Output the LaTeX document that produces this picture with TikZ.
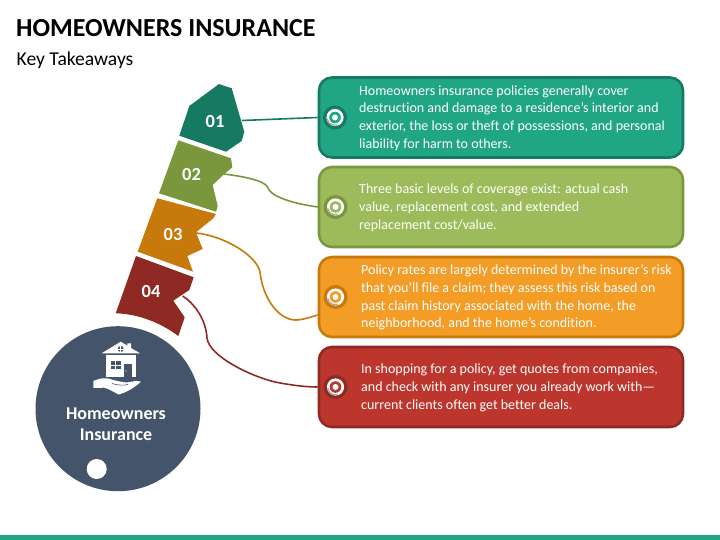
\documentclass[tikz,border=0pt]{standalone}
\usepackage{fontspec}
\setmainfont{Carlito}[Ligatures=NoCommon]
\definecolor{gA}{HTML}{20A585}\definecolor{gAd}{HTML}{167A63}
\definecolor{gB}{HTML}{9DBB5B}\definecolor{gBd}{HTML}{7A973E}
\definecolor{gC}{HTML}{F39C26}\definecolor{gCd}{HTML}{C8790B}
\definecolor{gD}{HTML}{BC362E}\definecolor{gDd}{HTML}{8E2A23}
\definecolor{slate}{HTML}{44546A}
\tikzset{
 cardbox/.style={draw=#1,line width=2.6pt,rounded corners=13pt,minimum width=364pt,minimum height=80pt,inner sep=0pt},
 cardtext/.style={anchor=west,align=left,text=white,font=\fontsize{14}{17.8}\selectfont,inner sep=0pt},
 tabnum/.style={text=white,font=\bfseries\fontsize{18.5}{20}\selectfont,inner sep=0pt},
 link/.style={draw=#1,line width=1.6pt},
}
\newcommand{\bulletmark}[4]{%
 \node[circle,fill=#3,minimum size=24pt,inner sep=0pt] (#1) at (#2) {};
 \fill[white] (#1) circle (8.6pt);
 \draw[gray!70,line width=1.3pt] (#1)++(190:7.9pt) arc (190:285:7.9pt);
 \fill[#4] (#1) circle (5.8pt);
 \fill[white] (#1) circle (3pt);
}
\begin{document}
\begin{tikzpicture}[x=1pt,y=-1pt]
\useasboundingbox (0,0) rectangle (720,540);
\fill[white] (0,0) rectangle (720,540);
\fill[gA] (0,534.5) rectangle (720,540);
\node[anchor=west,inner sep=0pt,font=\bfseries\fontsize{26}{28}\selectfont,text=black] (title) at (16,28) {HOMEOWNERS INSURANCE};
\node[anchor=west,inner sep=0pt,font=\fontsize{19.6}{22}\selectfont,text=black] (sub) at (16.5,60) {Key Takeaways};
% tabs
\fill[gAd] (219,84)--(231.7,88.3)--(244.3,131.7)--(241.7,141)--(226,151.7)--(179.3,135.7)--(189.3,106)--cycle;
\fill[gBd] (178.3,140.3)--(231,158.3)--(232.3,167.3)--(224,174.3)--(212.7,185)--(217.7,206)--(216,211.7)--(159,193.3)--cycle;
\fill[gCd] (157.3,198.3)--(216,214)--(213.3,218.3)--(196,232.3)--(202.7,249)--(187.3,256)--(193,271.7)--(137.7,251.7)--cycle;
\fill[gDd] (136,256)--(193.7,277.3)--(189.3,290)--(173.3,300.7)--(184.7,317.3)--(178.3,336) .. controls (161,323) and (139,314) .. (115.7,313.3)--cycle;
\node[tabnum] (n1) at (215,121) {01};
\node[tabnum] (n2) at (191.5,174) {02};
\node[tabnum] (n3) at (173,234) {03};
\node[tabnum] (n4) at (151,291) {04};
% circle
\node[circle,fill=slate,minimum size=165pt,inner sep=0pt] (hub) at (118,408.7) {};
\fill[white] (96.7,469) circle (10pt);
% house icon
\fill[white] (120.7,341.7)--(127.3,345.6)--(127.3,343.3)--(131,343.3)--(131,348)--(140,353.3)--(101.7,353.3)--cycle;
\fill[white] (105.7,355) rectangle (135.7,376.5);
\fill[slate] (120.7,349) circle (3pt);
\draw[white,line width=.6pt] (117.7,349)--(123.7,349) (120.7,346)--(120.7,352);
\fill[slate] (110.7,361) rectangle (120.7,369.3);
\draw[white,line width=.8pt] (115.7,361)--(115.7,369.3) (110.7,365.2)--(120.7,365.2);
\fill[slate] (124.3,364.3) rectangle (131.7,376.5);
\fill[white] (126,371) circle (.6pt);
\fill[white] (93.3,381) .. controls (100,378) and (106,377.5) .. (110,379) .. controls (116,381) and (122,382) .. (127,382.5)
  -- (136.5,380.8) -- (141,381.7) .. controls (135,387) and (128,392) .. (118.5,394.5)
  .. controls (112,391) and (108,388.5) .. (104,387.7) -- (93.3,388) -- cycle;
\draw[slate,line width=.6pt] (112,383.5) .. controls (118,385.5) and (124,385.5) .. (128,384.5);
\node[align=center,text=white,inner sep=0pt,font=\bfseries\fontsize{18}{21}\selectfont] (hubtext) at (116,424.5) {Homeowners\\Insurance};
% cards
\node[cardbox=gAd,fill=gA] (card1) at (501,117.5) {};
\node[cardbox=gBd,fill=gB] (card2) at (501,207) {};
\node[cardbox=gCd,fill=gC] (card3) at (501,297) {};
\node[cardbox=gDd,fill=gD] (card4) at (501,387) {};
\coordinate (e3) at (card3.west |- 0,315);
\coordinate (s1) at (242,120.5);
\coordinate (s2) at (224,174);
\coordinate (s3) at (196,233);
\coordinate (s4) at (182.7,296);
% connectors
\draw[link=gAd] (s1) -- (card1.west);
\draw[link=gBd] (s2) .. controls (240,176) and (264,180) .. (267.5,187) .. controls (270,196) and (290,203) .. (card2.west);
\draw[link=gCd] (s3) .. controls (225,236) and (257,256) .. (260,272) .. controls (263,300) and (280,321) .. (297,320) .. controls (304,319.5) and (311,317) .. (e3);
\draw[link=gDd] (s4) .. controls (195,304) and (206,320) .. (207,338) .. controls (209,356) and (250,376) .. (275,382) .. controls (290,385) and (305,387) .. (card4.west);
% bullets
\bulletmark{b1}{335,117.5}{gAd}{gA}
\bulletmark{b2}{335.5,207}{gBd}{gB}
\bulletmark{b3}{335.5,297}{gCd}{gC}
\bulletmark{b4}{335.5,387}{gDd}{gD}
% texts
\node[cardtext] (t1) at (359,118) {Homeowners insurance policies generally cover\\destruction and damage to a residence's interior and\\exterior, the loss or theft of possessions, and personal\\liability for harm to others.};
\node[cardtext] (t2) at (359,207.5) {Three basic levels of coverage exist: actual cash\\value, replacement cost, and extended\\replacement cost/value.};
\node[cardtext] (t3) at (361,297.5) {Policy rates are largely determined by the insurer's risk\\that you'll file a claim; they assess this risk based on\\past claim history associated with the home, the\\neighborhood, and the home's condition.};
\node[cardtext] (t4) at (361,388) {In shopping for a policy, get quotes from companies,\\and check with any insurer you already work with—\\current clients often get better deals.};
\end{tikzpicture}
\end{document}
